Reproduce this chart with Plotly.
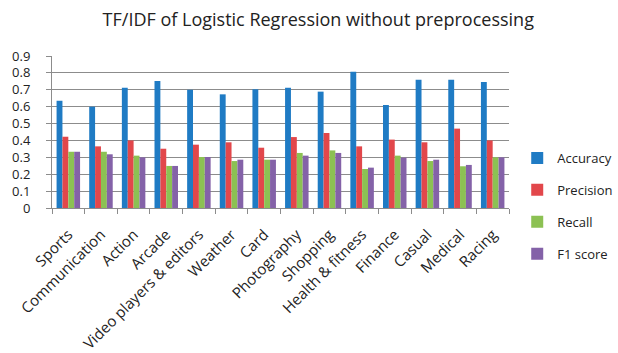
import plotly.graph_objects as go

categories = ["Sports", "Communication", "Action", "Arcade", "Video players & editors",
              "Weather", "Card", "Photography", "Shopping", "Health & fitness",
              "Finance", "Casual", "Medical", "Racing"]
accuracy = [0.635, 0.600, 0.712, 0.752, 0.700, 0.673, 0.703, 0.712, 0.689, 0.807,
            0.610, 0.760, 0.760, 0.746]
precision = [0.422, 0.365, 0.400, 0.351, 0.375, 0.389, 0.357, 0.420, 0.444, 0.365,
             0.405, 0.389, 0.470, 0.400]
recall = [0.333, 0.333, 0.310, 0.249, 0.302, 0.278, 0.286, 0.326, 0.341, 0.231,
          0.310, 0.278, 0.247, 0.300]
f1_score = [0.333, 0.318, 0.300, 0.249, 0.302, 0.286, 0.286, 0.310, 0.326, 0.239,
            0.298, 0.286, 0.255, 0.300]
y_ticks = [0, 0.1, 0.2, 0.3, 0.4, 0.5, 0.6, 0.7, 0.8, 0.9]

series = [
    ("Accuracy", accuracy, "#1F7BC4"),
    ("Precision", precision, "#E2474B"),
    ("Recall", recall, "#8CC153"),
    ("F1 score", f1_score, "#8462A8"),
]

font_family = "Open Sans, DejaVu Sans, sans-serif"
text_color = "#222222"
axis_gray = "#8c8c8c"

fig = go.Figure()
for name, values, color in series:
    fig.add_trace(go.Bar(
        x=categories, y=values, name=name, legendgroup=name,
        marker=dict(color=color, line=dict(width=0)),
    ))

fig.update_layout(
    width=618, height=353,
    margin=dict(l=52, r=109, t=56, b=145, autoexpand=False),
    paper_bgcolor="white", plot_bgcolor="white",
    barmode="group", bargap=0.28, bargroupgap=0,
    title=dict(text="TF/IDF of Logistic Regression without preprocessing",
               x=0.515, xanchor="center", y=0.945, yanchor="middle",
               font=dict(family=font_family, size=18, color=text_color)),
    font=dict(family=font_family, color=text_color),
    legend=dict(x=1.018, xanchor="left", y=0.013, yanchor="middle",
                font=dict(size=13, color=text_color),
                tracegroupgap=12, itemwidth=30, bgcolor="rgba(0,0,0,0)"),
    xaxis=dict(
        tickangle=-45, tickfont=dict(size=15, color=text_color),
        ticks="outside", tickson="boundaries", ticklen=5, tickcolor=axis_gray,
        ticklabelstandoff=11,
        showline=True, linecolor=axis_gray, linewidth=1,
        showgrid=False,
    ),
    yaxis=dict(
        range=[0, 0.9], tickvals=y_ticks, ticktext=[f"{v:g}" for v in y_ticks],
        tickfont=dict(size=13, color=text_color),
        ticks="outside", ticklen=5, tickcolor=axis_gray,
        ticklabelstandoff=13,
        showline=True, linecolor=axis_gray, linewidth=1,
        showgrid=True, gridcolor=axis_gray, gridwidth=1.3,
        zeroline=False,
    ),
)

fig.write_html("out.html")
